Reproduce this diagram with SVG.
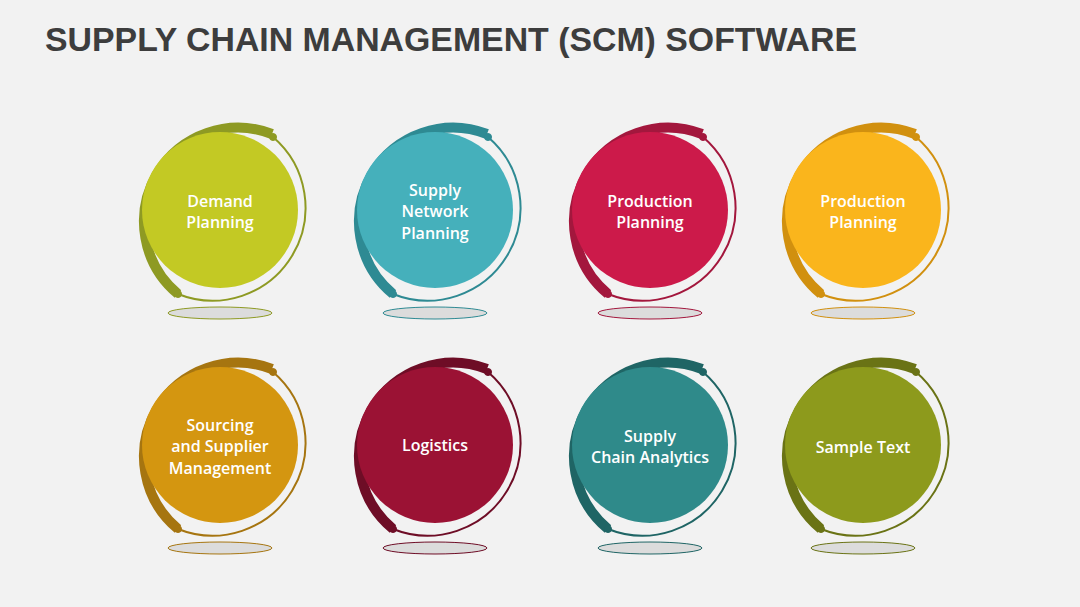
<svg xmlns="http://www.w3.org/2000/svg" width="1080" height="607" viewBox="0 0 1080 607">
<defs>
<style>
.t{font-family:"Open Sans","Liberation Sans",sans-serif;font-weight:600;font-size:16px;fill:#fff;text-anchor:middle}
.thick{fill:none;stroke-width:10}
.thin{fill:none;stroke-width:2}
.sh{fill:#dcdcdc}
</style>
<g id="ring">
<ellipse class="sh" cx="0" cy="103" rx="52" ry="6"/>
<path class="thick" d="M -42 84 A 94 94 0 0 1 52 -76"/>
<path class="thin" d="M 53 -73 A 93 93 0 0 1 -42 84"/>
<circle cx="53" cy="-73" r="3.5"/>
<circle cx="-42" cy="84" r="3.5"/>
</g>
</defs>
<rect width="1080" height="607" fill="#f2f2f2"/>
<text x="45" y="51" font-family="Liberation Sans,Arial,sans-serif" font-weight="bold" font-size="33" fill="#3d3d3d" textLength="812" lengthAdjust="spacingAndGlyphs">SUPPLY CHAIN MANAGEMENT (SCM) SOFTWARE</text>
<g id="connectors"></g>
<g id="n1" transform="translate(220,210)"><use href="#ring" stroke="#8e9a23" fill="#8e9a23"/><circle r="78" fill="#c3c924"/><text class="t" y="-3">Demand</text><text class="t" y="18">Planning</text></g>
<g id="n2" transform="translate(435,210)"><use href="#ring" stroke="#2e8a93" fill="#2e8a93"/><circle r="78" fill="#45b0bb"/><text class="t" y="-14">Supply</text><text class="t" y="7">Network</text><text class="t" y="29">Planning</text></g>
<g id="n3" transform="translate(650,210)"><use href="#ring" stroke="#a3173d" fill="#a3173d"/><circle r="78" fill="#cc1a4a"/><text class="t" y="-3">Production</text><text class="t" y="18">Planning</text></g>
<g id="n4" transform="translate(863,210)"><use href="#ring" stroke="#d1900f" fill="#d1900f"/><circle r="78" fill="#fab51c"/><text class="t" y="-3">Production</text><text class="t" y="18">Planning</text></g>
<g id="n5" transform="translate(220,445)"><use href="#ring" stroke="#a67510" fill="#a67510"/><circle r="78" fill="#d49610"/><text class="t" y="-14">Sourcing</text><text class="t" y="7">and Supplier</text><text class="t" y="29">Management</text></g>
<g id="n6" transform="translate(435,445)"><use href="#ring" stroke="#6e0d26" fill="#6e0d26"/><circle r="78" fill="#9b1234"/><text class="t" y="6">Logistics</text></g>
<g id="n7" transform="translate(650,445)"><use href="#ring" stroke="#1f6565" fill="#1f6565"/><circle r="78" fill="#2f8a8a"/><text class="t" y="-3">Supply</text><text class="t" y="18">Chain Analytics</text></g>
<g id="n8" transform="translate(863,445)"><use href="#ring" stroke="#6a7315" fill="#6a7315"/><circle r="78" fill="#8d9a1c"/><text class="t" y="8">Sample Text</text></g>
</svg>
